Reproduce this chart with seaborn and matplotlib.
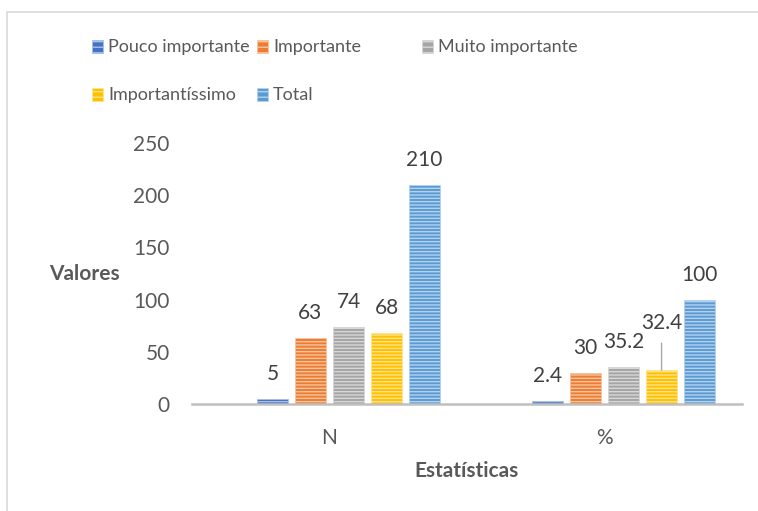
import matplotlib
matplotlib.use("Agg")
import matplotlib.pyplot as plt
import matplotlib.colors as mcolors
from matplotlib.patches import Rectangle
import numpy as np
import pandas as pd
import seaborn as sns

# ---- data -------------------------------------------------------------
categories = ["N", "%"]
series = ["Pouco importante", "Importante", "Muito importante",
          "Importantíssimo", "Total"]
n_values = [5, 63, 74, 68, 210]
pct_values = [2.4, 30, 35.2, 32.4, 100]
colors = ["#4472C4", "#ED7D31", "#A5A5A5", "#FFC000", "#5B9BD5"]
y_ticks = [0, 50, 100, 150, 200, 250]

# ---- style ------------------------------------------------------------
sns.set_theme(style="white")
plt.rcParams["font.family"] = ["Lato", "DejaVu Sans"]
plt.rcParams["hatch.linewidth"] = 1.0

TEXT = "#595959"
LABEL = "#404040"
FS = 15
LEGEND_FS = 13

df = pd.DataFrame({
    "Estatísticas": np.repeat(categories, len(series)),
    "Série": series * len(categories),
    "Valores": n_values + pct_values,
})

# an empty slot sits before the first series inside each category group
spacer = " "
hue_order = [spacer] + series
palette = dict(zip(series, colors))
palette[spacer] = "white"

W, H = 758, 511
fig = plt.figure(figsize=(W / 100, H / 100), dpi=100)
ax = fig.add_axes([192 / W, 1 - 404 / H, 550 / W, 261 / H])

sns.barplot(data=df, x="Estatísticas", y="Valores", hue="Série",
            order=categories, hue_order=hue_order, palette=palette,
            saturation=1, width=0.83, gap=0.18, errorbar=None,
            legend=False, ax=ax)


def lighten(c, amount=0.5):
    r, g, b = mcolors.to_rgb(c)
    return (r + (1 - r) * amount, g + (1 - g) * amount, b + (1 - b) * amount)


# striped fill on every bar
color_to_series = {mcolors.to_hex(c): s for s, c in zip(series, colors)}
for patch in ax.patches:
    fc = patch.get_facecolor()
    patch.set_hatch("-----")
    patch.set_edgecolor(lighten(fc, 0.55))
    patch.set_linewidth(0.6)

# value labels; one label is lifted and tied back to its bar with a line
leader = {("%", "Importantíssimo")}
for patch in ax.patches:
    key = mcolors.to_hex(patch.get_facecolor())
    if key not in color_to_series:
        continue
    s = color_to_series[key]
    cx = patch.get_x() + patch.get_width() / 2
    cat = categories[int(round(cx))]
    h = patch.get_height()
    if (cat, s) in leader:
        ax.annotate(f"{h:g}", xy=(cx, h), xytext=(0, 34),
                    textcoords="offset points", ha="center", va="center",
                    fontsize=FS, color=LABEL,
                    arrowprops=dict(arrowstyle="-", color="#A6A6A6",
                                    lw=1.0, shrinkA=5, shrinkB=0))
    else:
        ax.annotate(f"{h:g}", xy=(cx, h), xytext=(0, 18),
                    textcoords="offset points", ha="center", va="center",
                    fontsize=FS, color=LABEL)

# ---- axes -------------------------------------------------------------
ax.set_xlim(-0.5, 1.5)
ax.set_ylim(0, 250)
ax.set_yticks(y_ticks)
ax.set_yticklabels([str(t) for t in y_ticks])
for side in ["top", "right", "left"]:
    ax.spines[side].set_visible(False)
ax.spines["bottom"].set_color("#BFBFBF")
ax.spines["bottom"].set_linewidth(1.8)
ax.tick_params(axis="both", length=0, labelsize=FS, colors=TEXT)
ax.tick_params(axis="x", pad=17)
ax.tick_params(axis="y", pad=16)
ax.grid(False)

ax.set_ylabel("Valores", rotation=0, fontsize=FS, fontweight="bold",
              color=TEXT, ha="center", va="center")
ax.yaxis.set_label_coords(-0.196, 0.498)
ax.set_xlabel("Estatísticas", fontsize=FS, fontweight="bold", color=TEXT,
              ha="center", va="center")
ax.xaxis.set_label_coords(0.5, -0.257)

# ---- legend (three-column grid, filled row by row) -----------------------
for i, (s, c) in enumerate(zip(series, colors)):
    row, col = divmod(i, 3)
    x0 = 92 + col * 165
    yc = 47 + row * 48
    fig.add_artist(Rectangle((x0 / W, 1 - (yc + 6.5) / H), 11 / W, 13 / H,
                             transform=fig.transFigure, facecolor=c,
                             edgecolor=lighten(c, 0.55), hatch="---",
                             linewidth=0.5))
    fig.text((x0 + 16) / W, 1 - yc / H, s, fontsize=LEGEND_FS, color=TEXT,
             ha="left", va="center")

# chart frame
fig.add_artist(Rectangle((7 / W, -0.1), 1.2, 1.1 - 12 / H, fill=False,
                         edgecolor="#D9D9D9", linewidth=1.2,
                         transform=fig.transFigure))

fig.savefig("out.png", dpi=100)
